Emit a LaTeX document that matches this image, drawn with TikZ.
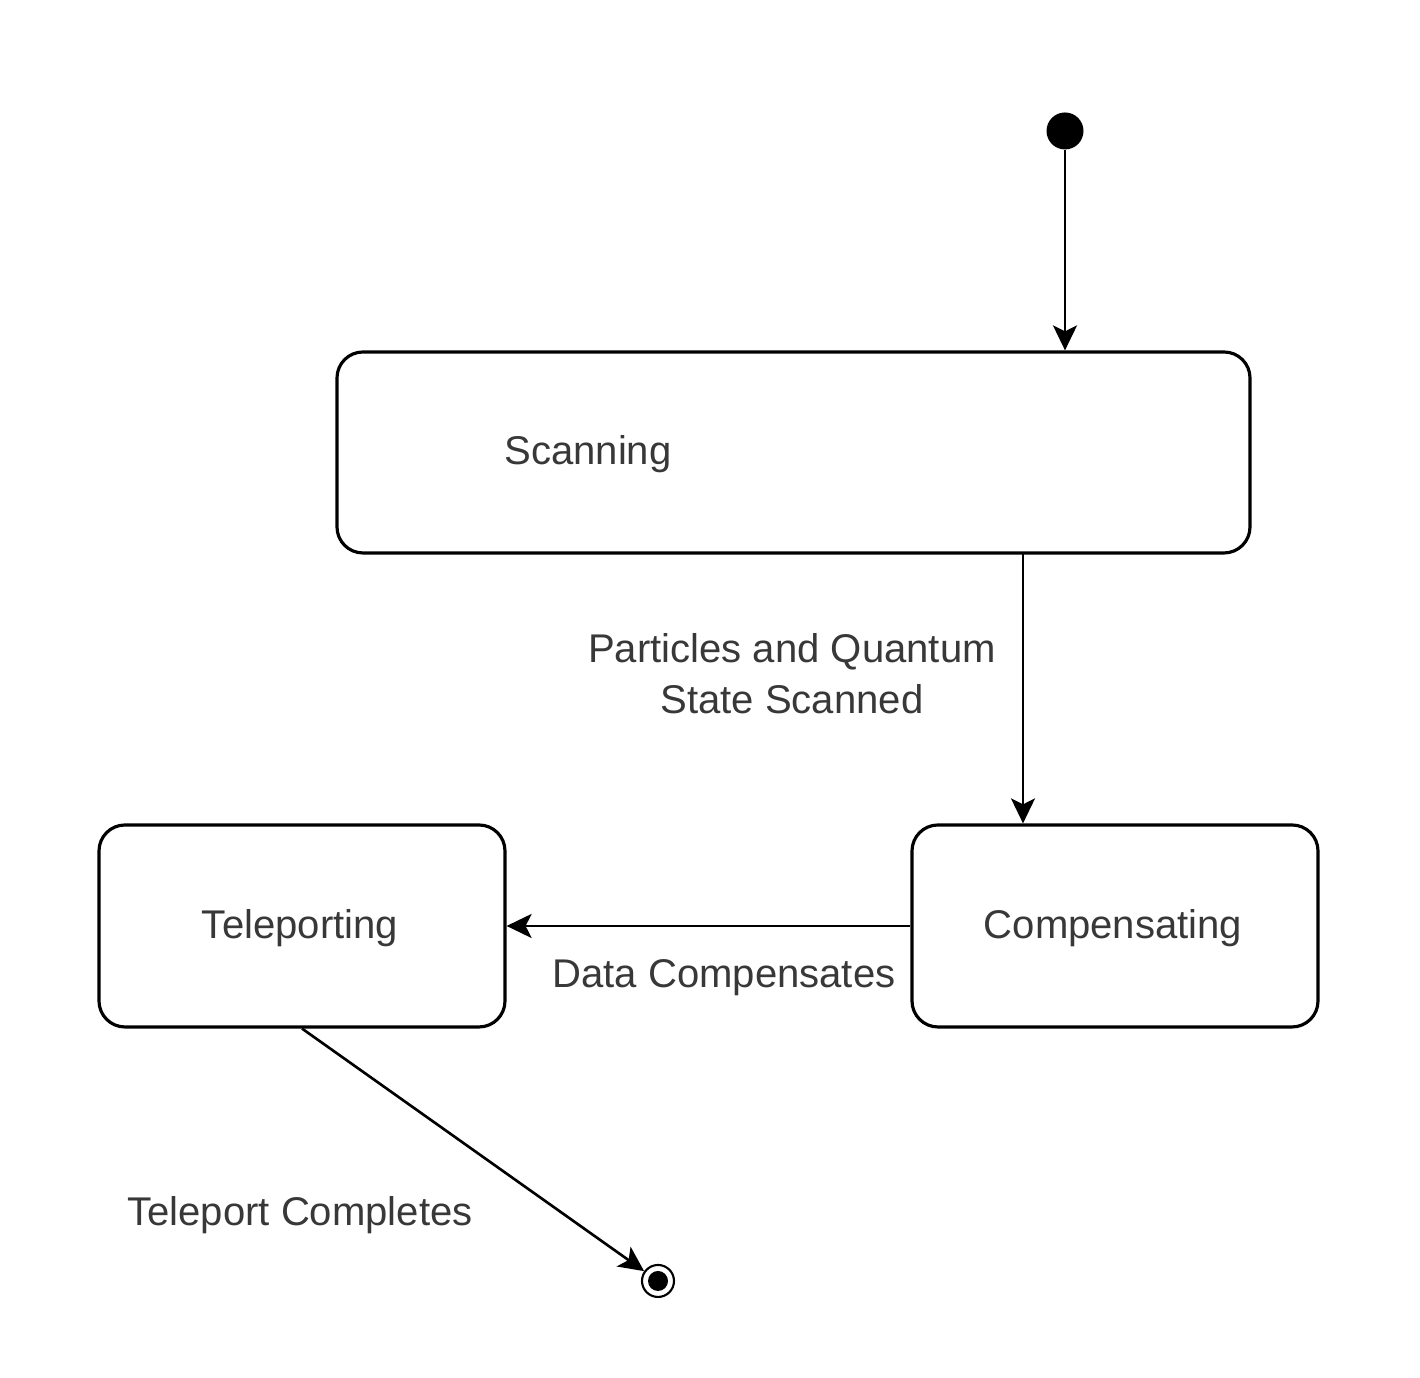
\documentclass[tikz,border=0pt]{standalone}
\usepackage{fontspec}
\setmainfont{Liberation Sans}
\usetikzlibrary{arrows.meta}
\definecolor{txtgray}{HTML}{383838}
\begin{document}
\begin{tikzpicture}[
  state/.style = {draw, line width=0.9pt, rounded corners=0.26cm, inner sep=0},
  lbl/.style = {text=txtgray, font=\fontsize{11.4}{14.5}\selectfont, align=center, inner sep=0},
  flow/.style = {-{Stealth[length=0.25cm,width=0.24cm,inset=0.06cm]}, line width=0.75pt}
]
\useasboundingbox (0,0) rectangle (14.2,13.78);
\node [state, minimum width=9.13cm, minimum height=2.01cm] (scan) at (7.935,9.255) {};
\node [state, minimum width=4.06cm, minimum height=2.02cm] (tele) at (3.02,4.52) {};
\node [state, minimum width=4.06cm, minimum height=2.02cm] (comp) at (11.15,4.52) {};
\node [lbl] (scantxt) at (5.88,9.24) {Scanning};
\node [lbl] (teletxt) at (3.00,4.50) {Teleporting};
\node [lbl] (comptxt) at (11.13,4.50) {Compensating};
\node [circle, fill, inner sep=0, minimum size=0.37cm] (init) at (10.65,12.47) {};
\node [circle, draw, line width=0.6pt, inner sep=0, minimum size=0.32cm] (final) at (6.58,0.97) {};
\fill (final) circle (0.1cm);
\coordinate (s2c) at (10.23,8.25);
\draw[flow] (init) -- (init |- scan.north);
\draw[flow] (s2c) -- (s2c |- comp.north);
\draw[flow] (comp.west) -- (tele.east);
\draw[flow] (tele.south) -- (final);
\node [lbl] (scanned) at (7.92,7.04) {Particles and Quantum\\State Scanned};
\node [lbl] (compensates) at (7.24,4.00) {Data Compensates};
\node [lbl] (completes) at (3.00,1.63) {Teleport Completes};
\end{tikzpicture}
\end{document}
